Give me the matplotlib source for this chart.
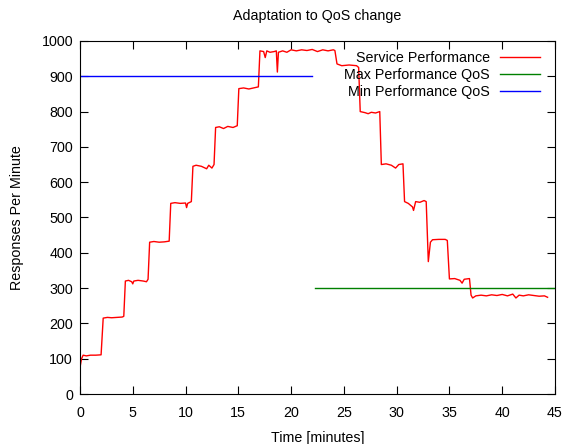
import matplotlib
matplotlib.use("Agg")
import matplotlib.pyplot as plt

plt.rcParams["font.family"] = ["Liberation Sans", "DejaVu Sans"]

# service performance samples (minutes, responses per minute)
time_min = [
    0.0, 0.15, 0.3, 0.6, 1.0, 1.5, 2.0, 2.2, 2.6, 3.0, 3.5, 4.0, 4.15, 4.3, 4.6,
    4.9, 5.0, 5.1, 5.5, 6.0, 6.3, 6.45, 6.6, 7.0, 7.5, 8.0, 8.45, 8.6, 9.0, 9.5,
    10.0, 10.1, 10.2, 10.55, 10.7, 11.0, 11.5, 12.0, 12.2, 12.5, 12.7, 12.85,
    13.2, 13.6, 14.0, 14.5, 14.9, 15.05, 15.5, 16.0, 16.6, 16.9, 17.05, 17.4,
    17.55, 17.7, 18.0, 18.4, 18.6, 18.7, 18.8, 19.2, 19.6, 20.0, 20.5, 21.0,
    21.5, 22.0, 22.5, 23.0, 23.5, 24.0, 24.15, 24.35, 24.8, 25.5, 26.2, 26.4,
    26.55, 27.0, 27.3, 27.6, 28.0, 28.4, 28.55, 29.0, 29.5, 29.9, 30.2, 30.6,
    30.75, 31.1, 31.5, 31.6, 31.8, 32.2, 32.6, 32.8, 33.0, 33.2, 33.4, 34.0,
    34.6, 34.8, 35.0, 35.5, 36.0, 36.2, 36.4, 36.9, 37.05, 37.2, 37.5, 38.0,
    38.5, 39.0, 39.5, 40.0, 40.5, 41.0, 41.3, 41.6, 42.0, 42.5, 43.0, 43.5,
    44.0, 44.3,
]
performance = [
    75, 100, 110, 108, 110, 110, 111, 215, 217, 216, 217, 218, 220, 320, 322,
    318, 312, 320, 322, 320, 318, 325, 430, 432, 430, 431, 433, 540, 542, 540,
    541, 528, 540, 545, 645, 648, 645, 638, 648, 640, 650, 755,
    757, 752, 758, 755, 760, 865, 867, 864, 868, 870, 972, 970,
    953, 972, 968, 970, 972, 912, 968, 972, 968, 975, 972, 975,
    973, 976, 970, 975, 972, 975, 973, 935, 930, 932, 930, 925,
    800, 797, 794, 798, 796, 800, 650, 652, 648, 640, 650, 652,
    545, 540, 530, 520, 545, 543, 548, 545, 375, 430, 437, 438,
    438, 435, 326, 327, 322, 314, 325, 327, 280, 272, 278, 280,
    278, 281, 279, 282, 278, 283, 272, 280, 278, 281, 279, 277,
    278, 274,
]

# QoS limits
max_qos_time = [22.3, 45]
max_qos_value = [300, 300]
min_qos_time = [0, 22.0]
min_qos_value = [900, 900]

fig = plt.figure(figsize=(5.64, 4.44), dpi=100)
ax = fig.add_axes([0.1418, 0.1126, 0.8422, 0.7951])

ax.plot(time_min, performance, color="#ff0000", lw=1, label="Service Performance")
ax.plot(max_qos_time, max_qos_value, color="#008000", lw=1, label="Max Performance QoS")
ax.plot(min_qos_time, min_qos_value, color="#0000ff", lw=1, label="Min Performance QoS")

fs = 10.3
ax.set_xlim(0, 45)
ax.set_ylim(0, 1000)
ax.set_xticks(range(0, 46, 5))
ax.set_yticks(range(0, 1001, 100))
ax.tick_params(direction="in", top=True, right=True, length=6, labelsize=fs)
ax.tick_params(axis="x", pad=8.3)
ax.tick_params(axis="y", pad=5)
ax.set_title("Adaptation to QoS change", fontsize=fs, pad=15)
ax.set_xlabel("Time [minutes]", fontsize=fs, labelpad=8.5)
ax.set_ylabel("Responses Per Minute", fontsize=fs, labelpad=12.6)

ax.legend(loc="upper right", bbox_to_anchor=(0.9895, 1.0), frameon=False,
          markerfirst=False, fontsize=fs, handlelength=2.8, handletextpad=0.7,
          labelspacing=0.22, borderaxespad=0.3)

fig.savefig("out.png", dpi=100)
